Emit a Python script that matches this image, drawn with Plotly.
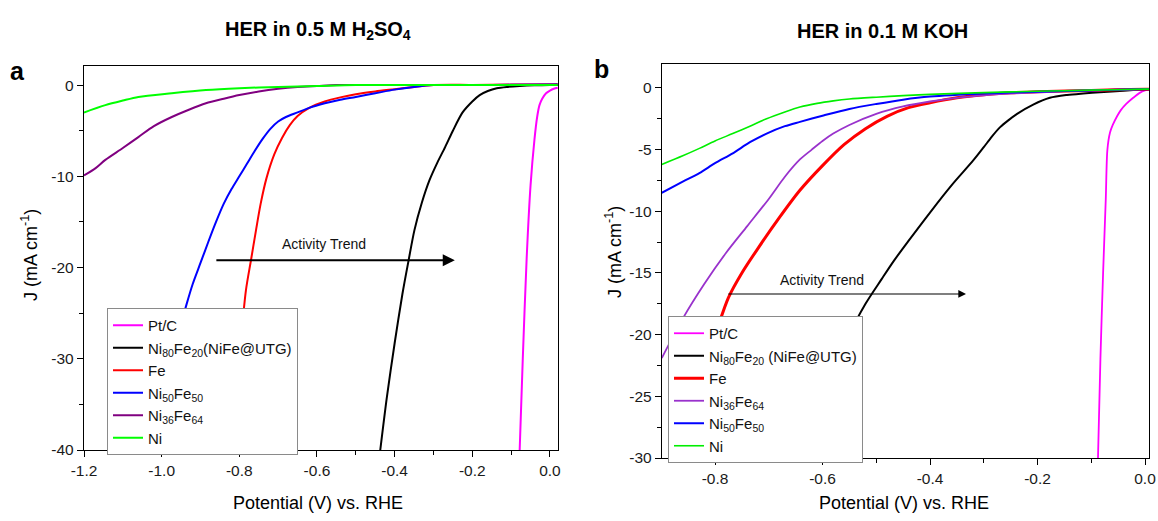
import plotly.graph_objects as go

FONT = "Liberation Sans, Arial, sans-serif"

# ---------------- Panel a: HER in 0.5 M H2SO4 ----------------
a_ptc_v = [0.02, 0.01, 0.0, -0.01, -0.02, -0.027, -0.033, -0.04, -0.05, -0.06, -0.07, -0.078]
a_ptc_j = [-0.3, -0.4, -0.6, -0.9, -1.5, -2.2, -3.5, -6.0, -11.0, -19.0, -30.0, -40.0]

a_nife_v = [0.02, 0.0, -0.04, -0.078, -0.11, -0.137, -0.16, -0.181, -0.20, -0.225, -0.25,
            -0.27, -0.29, -0.31, -0.33, -0.349, -0.364, -0.38, -0.40, -0.42, -0.437]
a_nife_j = [0.03, 0.0, -0.03, -0.1, -0.2, -0.35, -0.65, -1.1, -1.8, -3.0, -5.0,
            -6.8, -8.5, -10.4, -12.9, -15.9, -19.2, -22.9, -28.3, -34.2, -40.0]

a_fe_v = [0.02, -0.10, -0.20, -0.30, -0.35, -0.40, -0.45, -0.50, -0.54, -0.58, -0.62, -0.65,
          -0.67, -0.69, -0.71, -0.73, -0.745, -0.757, -0.77, -0.783, -0.80, -0.81, -0.819]
a_fe_j = [0.1, 0.05, 0.02, 0.0, -0.2, -0.45, -0.7, -1.0, -1.35, -1.8, -2.5, -3.4,
          -4.4, -5.8, -7.6, -10.2, -13.0, -15.9, -19.2, -22.5, -29.9, -35.0, -40.0]

a_ni50_v = [0.02, -0.10, -0.20, -0.30, -0.35, -0.40, -0.45, -0.50, -0.54, -0.58, -0.62, -0.65,
            -0.68, -0.70, -0.72, -0.74, -0.76, -0.78, -0.80, -0.82, -0.84, -0.86, -0.88,
            -0.90, -0.92, -0.935, -0.95, -0.97, -0.99, -1.014]
a_ni50_j = [0.05, 0.03, 0.01, 0.0, -0.2, -0.5, -0.9, -1.3, -1.6, -2.0, -2.5, -3.0,
            -3.5, -4.0, -4.8, -5.9, -7.2, -8.6, -10.0, -11.4, -13.0, -15.0, -17.2,
            -19.5, -21.8, -23.9, -26.2, -30.0, -34.5, -40.0]

a_ni36_v = [0.02, -0.20, -0.40, -0.55, -0.60, -0.65, -0.70, -0.75, -0.80, -0.84, -0.886,
            -0.93, -0.974, -1.02, -1.06, -1.10, -1.145, -1.17, -1.20]
a_ni36_j = [0.0, 0.0, 0.0, 0.0, -0.1, -0.2, -0.4, -0.7, -1.1, -1.5, -2.0,
            -2.7, -3.5, -4.5, -5.7, -6.9, -8.2, -9.1, -9.9]

a_ni_v = [0.02, -0.30, -0.50, -0.60, -0.70, -0.80, -0.886, -0.974, -1.06, -1.10, -1.145, -1.20]
a_ni_j = [0.0, 0.0, 0.0, -0.1, -0.2, -0.35, -0.55, -0.9, -1.3, -1.7, -2.2, -3.0]

# ---------------- Panel b: HER in 0.1 M KOH ----------------
b_ptc_v = [0.01, 0.0, -0.01, -0.022, -0.035, -0.045, -0.052, -0.06, -0.065, -0.07, -0.073,
           -0.078, -0.083, -0.0875]
b_ptc_j = [-0.1, -0.2, -0.4, -0.8, -1.3, -1.8, -2.3, -3.0, -3.6, -5.0, -9.0,
           -15.0, -22.0, -30.0]

b_nife_v = [0.01, 0.0, -0.04, -0.084, -0.115, -0.145, -0.177, -0.208, -0.238, -0.255, -0.27,
            -0.285, -0.30, -0.32, -0.36, -0.40, -0.44, -0.467, -0.49, -0.52, -0.55, -0.58,
            -0.61, -0.637]
b_nife_j = [-0.1, -0.12, -0.22, -0.35, -0.45, -0.57, -0.8, -1.35, -2.1, -2.65, -3.2,
            -3.95, -4.8, -5.9, -7.9, -10.1, -12.4, -14.0, -15.5, -17.5, -20.0, -23.4,
            -26.8, -30.0]

b_fe_v = [0.01, 0.0, -0.10, -0.20, -0.25, -0.30, -0.35, -0.40, -0.44, -0.48, -0.52, -0.56,
          -0.60, -0.642, -0.68, -0.72, -0.75, -0.775, -0.798, -0.82, -0.85, -0.872]
b_fe_j = [-0.1, -0.1, -0.2, -0.3, -0.4, -0.55, -0.8, -1.2, -1.6, -2.3, -3.3, -4.6,
          -6.3, -8.3, -10.5, -13.0, -15.0, -17.0, -19.8, -22.6, -26.6, -30.0]

b_ni36_v = [0.01, 0.0, -0.10, -0.20, -0.30, -0.35, -0.40, -0.45, -0.50, -0.55, -0.58, -0.60,
            -0.62, -0.642, -0.67, -0.70, -0.74, -0.78, -0.82, -0.86, -0.899]
b_ni36_j = [-0.1, -0.1, -0.2, -0.35, -0.6, -0.8, -1.1, -1.5, -2.1, -3.0, -3.7, -4.3,
            -5.0, -5.8, -7.2, -9.0, -11.2, -13.4, -15.9, -18.7, -21.9]

b_ni50_v = [0.01, 0.0, -0.10, -0.20, -0.30, -0.40, -0.45, -0.50, -0.55, -0.60, -0.642,
            -0.67, -0.704, -0.735, -0.767, -0.80, -0.829, -0.86, -0.899]
b_ni50_j = [-0.1, -0.1, -0.2, -0.3, -0.45, -0.7, -0.95, -1.3, -1.7, -2.25, -2.75,
            -3.1, -3.7, -4.4, -5.3, -6.1, -6.9, -7.6, -8.5]

b_ni_v = [0.01, 0.0, -0.10, -0.20, -0.30, -0.40, -0.45, -0.50, -0.55, -0.58, -0.61, -0.642,
          -0.67, -0.704, -0.735, -0.767, -0.80, -0.829, -0.86, -0.899]
b_ni_j = [-0.1, -0.1, -0.18, -0.27, -0.38, -0.52, -0.62, -0.75, -0.9, -1.05, -1.25, -1.55,
          -1.95, -2.5, -3.1, -3.7, -4.3, -4.9, -5.5, -6.2]

# tick labels
a_xticks = [-1.2, -1.0, -0.8, -0.6, -0.4, -0.2, 0.0]
a_xlabels = ["-1.2", "-1.0", "-0.8", "-0.6", "-0.4", "-0.2", "0.0"]
a_yticks = [0, -10, -20, -30, -40]
a_ylabels = ["0", "-10", "-20", "-30", "-40"]
b_xticks = [-0.8, -0.6, -0.4, -0.2, 0.0]
b_xlabels = ["-0.8", "-0.6", "-0.4", "-0.2", "0.0"]
b_yticks = [0, -5, -10, -15, -20, -25, -30]
b_ylabels = ["0", "-5", "-10", "-15", "-20", "-25", "-30"]

fig = go.Figure()


def add(v, j, name, color, axis, legend, width=2.0):
    xa, ya = ("x", "y") if axis == 1 else ("x2", "y2")
    fig.add_trace(go.Scatter(
        x=v, y=j, name=name, mode="lines",
        line=dict(color=color, width=width, shape="spline", smoothing=0.8),
        xaxis=xa, yaxis=ya, legend=legend,
    ))


NI80 = "Ni<sub>80</sub>Fe<sub>20</sub>"
NI50 = "Ni<sub>50</sub>Fe<sub>50</sub>"
NI36 = "Ni<sub>36</sub>Fe<sub>64</sub>"

# panel a traces (legend order)
add(a_ptc_v, a_ptc_j, "Pt/C", "#ff00ff", 1, "legend")
add(a_nife_v, a_nife_j, NI80 + "(NiFe@UTG)", "#000000", 1, "legend")
add(a_fe_v, a_fe_j, "Fe", "#ff0000", 1, "legend")
add(a_ni50_v, a_ni50_j, NI50, "#0000ff", 1, "legend")
add(a_ni36_v, a_ni36_j, NI36, "#800080", 1, "legend")
add(a_ni_v, a_ni_j, "Ni", "#00ff00", 1, "legend")

# panel b traces (legend order)
add(b_ptc_v, b_ptc_j, "Pt/C", "#ff00ff", 2, "legend2", 1.8)
add(b_nife_v, b_nife_j, NI80 + " (NiFe@UTG)", "#000000", 2, "legend2", 2.0)
add(b_fe_v, b_fe_j, "Fe", "#ff0000", 2, "legend2", 3.0)
add(b_ni36_v, b_ni36_j, NI36, "#9932cc", 2, "legend2", 1.8)
add(b_ni50_v, b_ni50_j, NI50, "#0000ff", 2, "legend2", 2.0)
add(b_ni_v, b_ni_j, "Ni", "#00ee00", 2, "legend2", 1.6)

W, H = 1158, 521


def axis(domain, rng, tv, tt, minor_dt, anchor):
    return dict(
        domain=domain, range=rng, anchor=anchor, automargin=False,
        tickmode="array", tickvals=tv, ticktext=tt,
        ticks="outside", ticklen=6, tickwidth=1.3, tickcolor="#000",
        showline=True, linecolor="#000", linewidth=1.4, mirror=True,
        showgrid=False, zeroline=False,
        tickfont=dict(family=FONT, size=15.5, color="#1a1a1a"),
        minor=dict(tickmode="linear", tick0=0, dtick=minor_dt, ticks="outside",
                   ticklen=3.5, tickwidth=1.2, tickcolor="#000", showgrid=False),
    )


legend_common = dict(
    bgcolor="#ffffff", bordercolor="#8a8a8a", borderwidth=1,
    font=dict(family=FONT, size=15, color="#111"),
    tracegroupgap=0, itemwidth=30,
    xanchor="left", yanchor="top",
)

fig.update_layout(
    width=W, height=H, margin=dict(l=0, r=0, t=0, b=0, autoexpand=False),
    paper_bgcolor="#ffffff", plot_bgcolor="#ffffff",
    xaxis=axis([84 / W, 558 / W], [-1.2, 0.0207], a_xticks, a_xlabels, 0.1, "y"),
    yaxis=axis([1 - 450 / H, 1 - 66 / H], [-40, 2.09], a_yticks, a_ylabels, 5, "x"),
    xaxis2=axis([662 / W, 1149 / W], [-0.8986, 0.0074], b_xticks, b_xlabels, 0.1, "y2"),
    yaxis2=axis([1 - 458 / H, 1 - 64 / H], [-30, 1.94], b_yticks, b_ylabels, 2.5, "x2"),
    legend=dict(x=107 / W, y=1 - 308 / H, **legend_common),
    legend2=dict(x=668 / W, y=1 - 316 / H, **legend_common),
    showlegend=True,
)

ann = []


def text(x, y, s, size, angle=0):
    ann.append(dict(
        x=x / W, y=1 - y / H, xref="paper", yref="paper", text=s, showarrow=False,
        font=dict(family=FONT, size=size, color="#000"), textangle=angle,
        xanchor="center", yanchor="middle",
    ))


text(318, 31, "<b>HER in 0.5 M H<sub>2</sub>SO<sub>4</sub></b>", 20)
text(882, 31, "<b>HER in 0.1 M KOH</b>", 20)
text(17, 71, "<b>a</b>", 25)
text(601, 69, "<b>b</b>", 25)
text(318, 503, "Potential (V) vs. RHE", 18)
text(904, 503, "Potential (V) vs. RHE", 18)
text(29, 255, "J (mA cm<sup>-1</sup>)", 18, angle=-90)
text(613, 252, "J (mA cm<sup>-1</sup>)", 18, angle=-90)

# activity trend arrows
ann.append(dict(x=-0.245, y=-19.2, ax=-0.863, ay=-19.2, xref="x", yref="y", axref="x", ayref="y",
                showarrow=True, arrowhead=2, arrowsize=1.1, arrowwidth=2.2, arrowcolor="#000", text=""))
ann.append(dict(x=-0.581, y=-17.4, xref="x", yref="y", text="Activity Trend", showarrow=False,
                font=dict(family=FONT, size=14, color="#111")))
ann.append(dict(x=-0.333, y=-16.7, ax=-0.778, ay=-16.7, xref="x2", yref="y2", axref="x2", ayref="y2",
                showarrow=True, arrowhead=2, arrowsize=1.4, arrowwidth=1.1, arrowcolor="#000", text=""))
ann.append(dict(x=-0.601, y=-15.6, xref="x2", yref="y2", text="Activity Trend", showarrow=False,
                font=dict(family=FONT, size=14, color="#111")))

fig.update_layout(annotations=ann)
fig.write_html("out.html")
